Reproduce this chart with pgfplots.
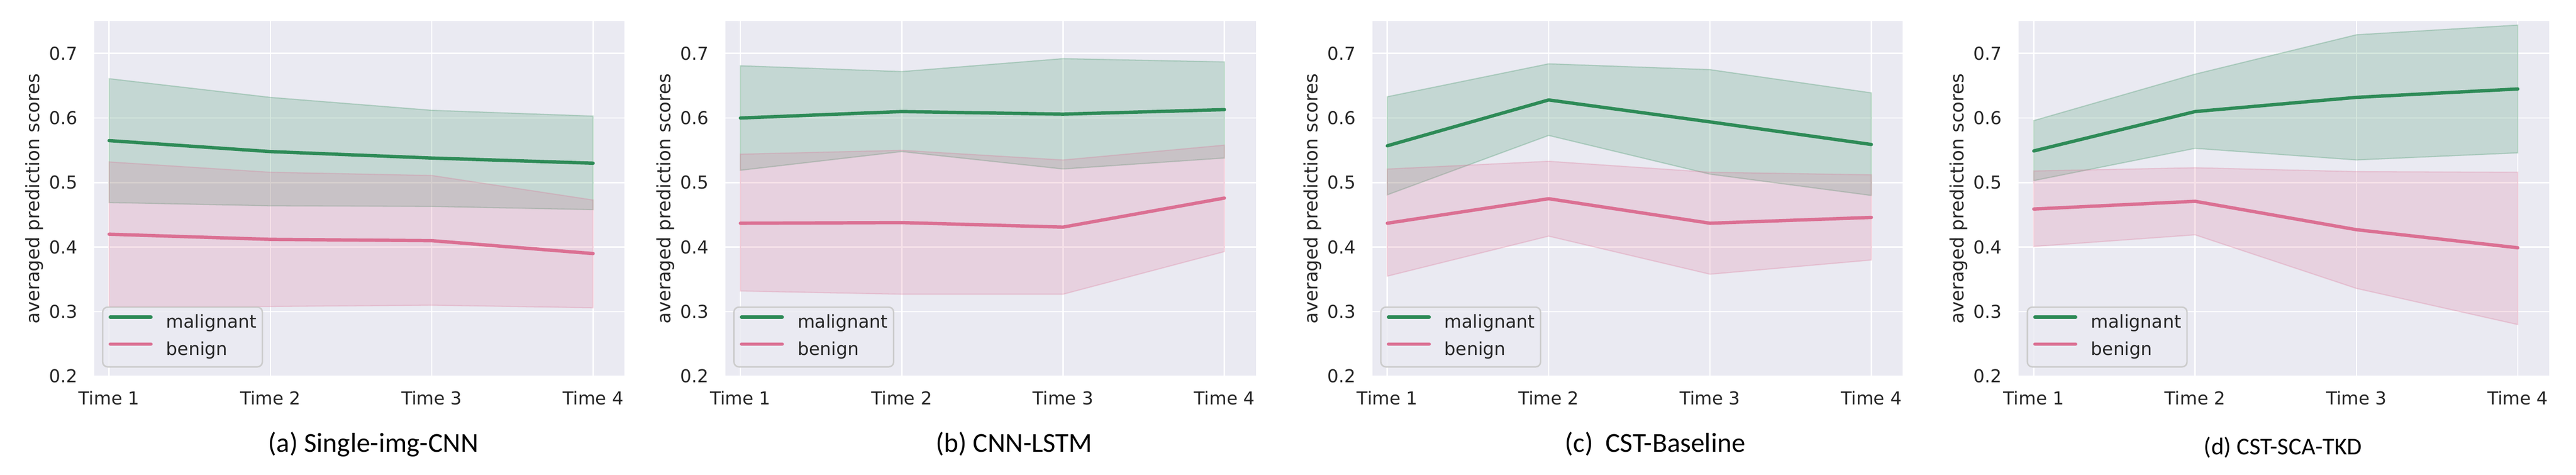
\documentclass[border=0pt]{standalone}
\usepackage{fontspec}
\setmainfont{DejaVu Sans}
\newfontfamily\capfont{Carlito}
\usepackage{pgfplots}
\pgfplotsset{compat=1.18}
\definecolor{sbbg}{HTML}{EAEAF2}
\definecolor{mal}{RGB}{46,139,87}
\definecolor{ben}{RGB}{219,112,147}
\definecolor{tickc}{HTML}{262626}
\definecolor{legedge}{HTML}{CCCCCC}
\pgfplotsset{
  sb/.style={
    scale only axis, width=270.6pt, height=181.1pt,
    anchor=north west,
    xmin=0.907, xmax=4.195, ymin=0.2, ymax=0.75,
    xtick={1,2,3,4}, xticklabels={Time 1,Time 2,Time 3,Time 4},
    ytick={0.2,0.3,0.4,0.5,0.6,0.7}, yticklabels={0.2,0.3,0.4,0.5,0.6,0.7},
    grid=major, major grid style={white, line width=0.7pt},
    axis line style={draw=none}, major tick length=0pt, tick style={draw=none},
    axis background/.style={fill=sbbg},
    tick label style={font=\fontsize{9.1}{10}\selectfont, text=tickc},
    yticklabel style={xshift=-5pt},
    xticklabel style={yshift=-4pt},
    ylabel={averaged prediction scores},
    ylabel style={font=\fontsize{9.4}{11}\selectfont, text=tickc, at={(axis description cs:-0.1035,0.5)}, anchor=base},
    legend style={at={(axis description cs:0,0)}, anchor=south west, xshift=4pt, yshift=4.4pt,
      draw=legedge, line width=0.75pt, fill=sbbg, fill opacity=0.8, text opacity=1, draw opacity=1,
      rounded corners=2.5pt, font=\fontsize{9.1}{10}\selectfont, text=tickc,
      inner xsep=3pt, inner ysep=3.8pt, row sep=4.65pt, column sep=7pt,
      nodes={inner sep=0pt, text height=6.9pt, text depth=2.2pt}},
    legend cell align=left,
    legend image code/.code={\draw[#1] (0pt,3.3pt) -- (20.8pt,3.3pt);},
  },
  band/.style={fill=#1, fill opacity=0.2, draw=#1, draw opacity=0.25, line width=0.6pt, forget plot},
  ln/.style={#1, line width=1.7pt, line cap=round, line join=round},
}
\begin{document}
\begin{tikzpicture}
\useasboundingbox (0,0) rectangle (1314pt,242.25pt);
% (a)
\begin{axis}[sb, at={(48pt,231.43pt)}]
\addplot[band=mal] coordinates {(1,0.661)(2,0.632)(3,0.612)(4,0.603)(4,0.458)(3,0.463)(2,0.464)(1,0.469)} -- cycle;
\addplot[band=ben] coordinates {(1,0.532)(2,0.516)(3,0.511)(4,0.473)(4,0.306)(3,0.310)(2,0.308)(1,0.308)} -- cycle;
\addplot[ln=mal] coordinates {(1,0.565)(2,0.548)(3,0.538)(4,0.530)};
\addlegendentry{malignant}
\addplot[ln=ben] coordinates {(1,0.420)(2,0.412)(3,0.410)(4,0.390)};
\addlegendentry{benign}
\end{axis}
% (b)
\begin{axis}[sb, at={(370pt,231.43pt)}]
\addplot[band=mal] coordinates {(1,0.681)(2,0.672)(3,0.692)(4,0.687)(4,0.538)(3,0.521)(2,0.548)(1,0.519)} -- cycle;
\addplot[band=ben] coordinates {(1,0.544)(2,0.550)(3,0.535)(4,0.558)(4,0.393)(3,0.327)(2,0.327)(1,0.332)} -- cycle;
\addplot[ln=mal] coordinates {(1,0.600)(2,0.610)(3,0.606)(4,0.613)};
\addlegendentry{malignant}
\addplot[ln=ben] coordinates {(1,0.437)(2,0.438)(3,0.431)(4,0.476)};
\addlegendentry{benign}
\end{axis}
% (c)
\begin{axis}[sb, at={(700pt,231.43pt)}]
\addplot[band=mal] coordinates {(1,0.633)(2,0.684)(3,0.675)(4,0.639)(4,0.480)(3,0.513)(2,0.573)(1,0.481)} -- cycle;
\addplot[band=ben] coordinates {(1,0.521)(2,0.533)(3,0.516)(4,0.512)(4,0.380)(3,0.358)(2,0.417)(1,0.355)} -- cycle;
\addplot[ln=mal] coordinates {(1,0.557)(2,0.628)(3,0.594)(4,0.559)};
\addlegendentry{malignant}
\addplot[ln=ben] coordinates {(1,0.437)(2,0.475)(3,0.437)(4,0.446)};
\addlegendentry{benign}
\end{axis}
% (d)
\begin{axis}[sb, at={(1029.75pt,231.43pt)}]
\addplot[band=mal] coordinates {(1,0.596)(2,0.668)(3,0.729)(4,0.744)(4,0.546)(3,0.535)(2,0.553)(1,0.503)} -- cycle;
\addplot[band=ben] coordinates {(1,0.518)(2,0.523)(3,0.517)(4,0.516)(4,0.280)(3,0.336)(2,0.419)(1,0.401)} -- cycle;
\addplot[ln=mal] coordinates {(1,0.549)(2,0.610)(3,0.632)(4,0.645)};
\addlegendentry{malignant}
\addplot[ln=ben] coordinates {(1,0.459)(2,0.471)(3,0.427)(4,0.399)};
\addlegendentry{benign}
\end{axis}
\node[anchor=base, font=\capfont\fontsize{14}{16}\selectfont] at (190.4pt,11.7pt) {(a) Single-img-CNN};
\node[anchor=base, font=\capfont\fontsize{14}{16}\selectfont] at (517.3pt,11.7pt) {(b) CNN-LSTM};
\node[anchor=base, font=\capfont\fontsize{14}{16}\selectfont] at (844.3pt,11.7pt) {(c)\ \ CST-Baseline};
\node[anchor=base, font=\capfont\fontsize{12.3}{14}\selectfont] at (1164.5pt,10.3pt) {(d) CST-SCA-TKD};
\end{tikzpicture}
\end{document}
